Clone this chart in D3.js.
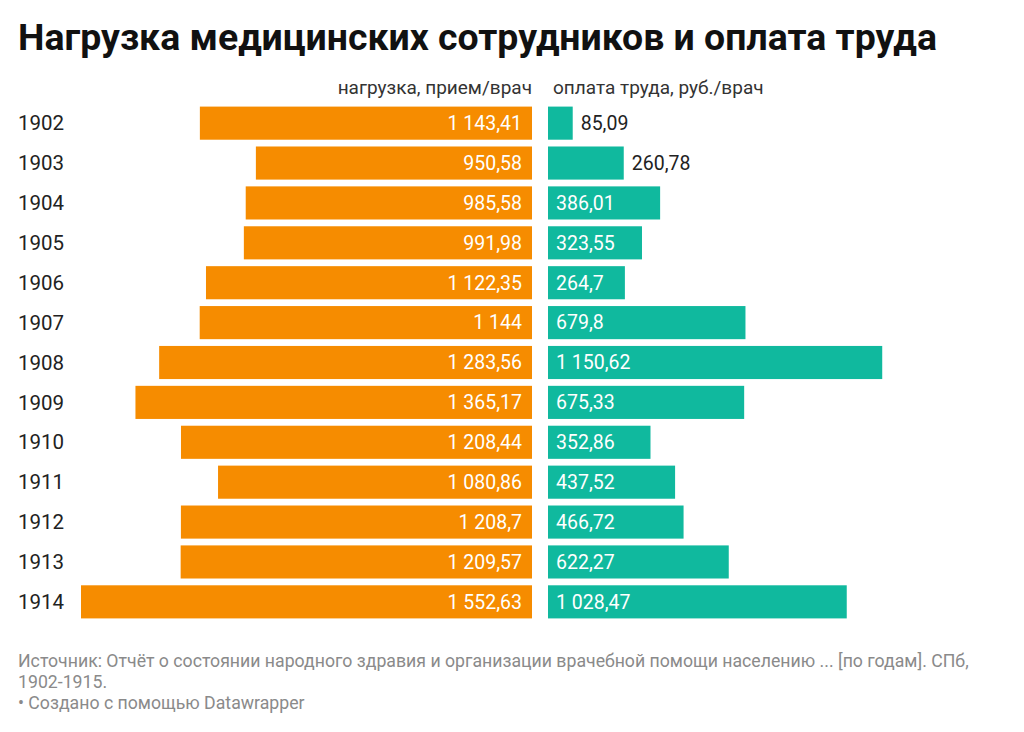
<!DOCTYPE html>
<html><head><meta charset="utf-8">
<script src="https://cdn.jsdelivr.net/npm/d3@7"></script>
<style>body{margin:0;background:#fff;font-family:Roboto,"Noto Sans",sans-serif;}</style>
</head><body><svg id="c" width="1024" height="732"></svg>
<script>
const years = ["1902","1903","1904","1905","1906","1907","1908","1909","1910","1911","1912","1913","1914"];
const loadValues = [1143.41,950.58,985.58,991.98,1122.35,1144,1283.56,1365.17,1208.44,1080.86,1208.7,1209.57,1552.63];
const payValues = [85.09,260.78,386.01,323.55,264.7,679.8,1150.62,675.33,352.86,437.52,466.72,622.27,1028.47];
const loadLabels = ["1 143,41","950,58","985,58","991,98","1 122,35","1 144","1 283,56","1 365,17","1 208,44","1 080,86","1 208,7","1 209,57","1 552,63"];
const payLabels = ["85,09","260,78","386,01","323,55","264,7","679,8","1 150,62","675,33","352,86","437,52","466,72","622,27","1 028,47"];

const svg = d3.select("#c");
const orange = "#f68c00", teal = "#10b99e";

svg.append("text").attr("x",18).attr("y",50).attr("font-size",37).attr("font-weight",700)
  .attr("fill","#111").attr("textLength",919).attr("lengthAdjust","spacingAndGlyphs")
  .text("Нагрузка медицинских сотрудников и оплата труда");

const y = d3.scaleBand().domain(years).range([105,620]).paddingInner(0.17).paddingOuter(0.04);
const xL = d3.scaleLinear().domain([0,1552.63]).range([532,81]);
const xR = d3.scaleLinear().domain([0,1552.63]).range([548,999]);

svg.append("text").attr("x",532).attr("y",94).attr("text-anchor","end").attr("font-size",19)
  .attr("fill","#333").text("нагрузка, прием/врач");
svg.append("text").attr("x",553).attr("y",94).attr("font-size",19)
  .attr("fill","#333").text("оплата труда, руб./врач");

const g = svg.append("g");
const rows = g.selectAll("g.row").data(years).join("g").attr("class","row");

rows.append("text").attr("x",18).attr("y",d=>y(d)+y.bandwidth()/2).attr("dy","0.35em")
  .attr("font-size",20.5).attr("fill","#222").text(d=>d);

rows.append("rect").attr("x",(d,i)=>xL(loadValues[i])).attr("y",d=>y(d))
  .attr("width",(d,i)=>xL(0)-xL(loadValues[i])).attr("height",y.bandwidth()).attr("fill",orange);
rows.append("text").attr("x",522).attr("y",d=>y(d)+y.bandwidth()/2).attr("dy","0.35em")
  .attr("text-anchor","end").attr("font-size",19.5).attr("fill","#fff").text((d,i)=>loadLabels[i]);

const inside = i => (xR(payValues[i])-xR(0)) > 76;
rows.append("rect").attr("x",xR(0)).attr("y",d=>y(d))
  .attr("width",(d,i)=>xR(payValues[i])-xR(0)).attr("height",y.bandwidth()).attr("fill",teal);
rows.append("text")
  .attr("x",(d,i)=> inside(i) ? 556 : xR(payValues[i])+8)
  .attr("y",d=>y(d)+y.bandwidth()/2).attr("dy","0.35em")
  .attr("font-size",19.5).attr("fill",(d,i)=> inside(i) ? "#fff" : "#222")
  .text((d,i)=>payLabels[i]);

const foot = ["Источник: Отчёт о состоянии народного здравия и организации врачебной помощи населению ... [по годам]. СПб,","1902-1915."];
svg.selectAll("text.src").data(foot).join("text").attr("class","src").attr("x",18).attr("y",(d,i)=>667+i*21)
  .attr("font-size",17.7).attr("fill","#8a8a8a").text(d=>d);
svg.append("text").attr("x",18).attr("y",709).attr("font-size",17.7).attr("fill","#8a8a8a")
  .text("\u2022 Создано с помощью Datawrapper");
</script></body></html>
